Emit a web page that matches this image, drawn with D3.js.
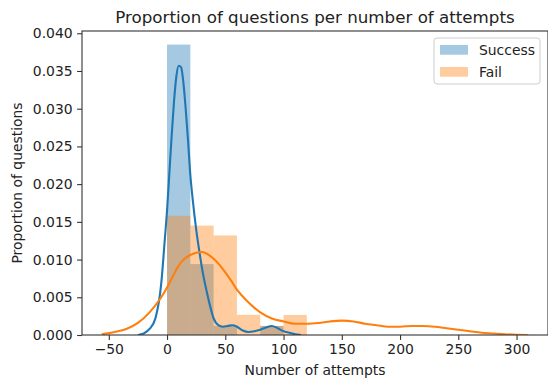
<!DOCTYPE html>
<html>
<head>
<meta charset="utf-8">
<script src="https://cdn.jsdelivr.net/npm/d3@7"></script>
<style>
  body { margin: 0; background: #fff; }
  text { font-family: "DejaVu Sans", sans-serif; fill: #222; }
</style>
</head>
<body>
<div id="chart"></div>
<script>

// Histogram bins (number of attempts) and densities
var binEdges = [0, 20, 40, 60, 80, 100, 120];
var successHist = [0.0385, 0.0094, 0.0012, 0, 0.0012, 0];
var failHist = [0.0158, 0.0145, 0.0132, 0.00268, 0.0012, 0.00265];

// KDE curves
var successKdeX = [-25, -20, -15, -10, -5, -2, 0, 2, 4, 6, 8, 10, 12, 14, 16, 18, 20, 22, 25, 28, 31, 34, 37, 40, 44, 48, 52, 56, 60, 65, 70, 75, 80, 85, 90, 95, 100, 105, 110, 115];
var successKdeY = [0, 0.0002, 0.0008, 0.0022, 0.0068, 0.0125, 0.0165, 0.0215, 0.0265, 0.0310, 0.0343, 0.0357, 0.0355, 0.0335, 0.0300, 0.0258, 0.0212, 0.0180, 0.0140, 0.0108, 0.0080, 0.0058, 0.0038, 0.0022, 0.0013, 0.0011, 0.0012, 0.0013, 0.0011, 0.0006, 0.0004, 0.0005, 0.0007, 0.0010, 0.0012, 0.0009, 0.0005, 0.0003, 0.0001, 0];

var failKdeX = [-56, -45, -35, -25, -15, -5, 0, 5, 10, 15, 20, 25, 30, 35, 40, 45, 50, 55, 60, 65, 70, 75, 80, 90, 100, 110, 120, 130, 140, 150, 160, 170, 180, 190, 200, 210, 220, 230, 240, 250, 260, 270, 280, 290, 300, 310];
var failKdeY = [0.0001, 0.0004, 0.0008, 0.0016, 0.0030, 0.0050, 0.0063, 0.0078, 0.0092, 0.0101, 0.0106, 0.0109, 0.0110, 0.0107, 0.0101, 0.0093, 0.0083, 0.0072, 0.0060, 0.0051, 0.0043, 0.0036, 0.0030, 0.0022, 0.0018, 0.0015, 0.0015, 0.0016, 0.0018, 0.0019, 0.0018, 0.0015, 0.0013, 0.0011, 0.0011, 0.0012, 0.0012, 0.0011, 0.0009, 0.0007, 0.0005, 0.0003, 0.0002, 0.0001, 0.00003, 0];

var xTicks = [-50, 0, 50, 100, 150, 200, 250, 300];
var yTicks = [0, 0.005, 0.010, 0.015, 0.020, 0.025, 0.030, 0.035, 0.040];

var seriesNames = ["Success", "Fail"];
var colors = { Success: "#1f77b4", Fail: "#ff7f0e" };

var svgWidth = 548;
var svgHeight = 382;
var margin = { top: 31, right: 0, bottom: 47, left: 82 };
var width = svgWidth - margin.left - margin.right;
var height = svgHeight - margin.top - margin.bottom;

var svg = d3.select("#chart")
  .append("svg")
  .attr("width", svgWidth)
  .attr("height", svgHeight);

var chart = svg.append("g")
  .attr("transform", "translate(" + margin.left + "," + margin.top + ")");

// Scales
var xScale = d3.scaleLinear().domain([-73, 327]).range([0, width]);
var yScale = d3.scaleLinear().domain([0, 0.0403]).range([height, 0]);

// Clip so nothing draws past the axes
chart.append("clipPath").attr("id", "clip")
  .append("rect").attr("width", width).attr("height", height);

// bars go under the lines (patches before lines, like matplotlib)
var barLayer = chart.append("g").attr("clip-path", "url(#clip)");
var lineLayer = chart.append("g").attr("clip-path", "url(#clip)");

var line = d3.line()
  .x(function(d) { return xScale(d[0]); })
  .y(function(d) { return yScale(d[1]); })
  .curve(d3.curveMonotoneX);

function drawSeries(name, hist, kx, ky) {
  var bins = hist.map(function(v, i) {
    return { x0: binEdges[i], x1: binEdges[i + 1], v: v };
  });

  barLayer.append("g").selectAll("rect")
    .data(bins)
    .enter().append("rect")
      .attr("x", function(d) { return xScale(d.x0); })
      .attr("width", function(d) { return xScale(d.x1) - xScale(d.x0); })
      .attr("y", function(d) { return yScale(d.v); })
      .attr("height", function(d) { return yScale(0) - yScale(d.v); })
      .attr("fill", colors[name])
      .attr("fill-opacity", 0.4);

  lineLayer.append("path")
    .datum(kx.map(function(x, i) { return [x, ky[i]]; }))
    .attr("d", line)
    .attr("fill", "none")
    .attr("stroke", colors[name])
    .attr("stroke-width", 2.1);
}

drawSeries("Success", successHist, successKdeX, successKdeY);
drawSeries("Fail", failHist, failKdeX, failKdeY);

// Axes
var bottomAxis = d3.axisBottom(xScale).tickValues(xTicks).tickSizeOuter(0).tickSize(4.9).tickPadding(4.5);
var leftAxis = d3.axisLeft(yScale).tickValues(yTicks).tickFormat(d3.format(".3f")).tickSizeOuter(0).tickSize(4.9).tickPadding(4.5);

var gx = chart.append("g")
  .attr("transform", "translate(0," + height + ")")
  .call(bottomAxis);
var gy = chart.append("g").call(leftAxis);

[gx, gy].forEach(function(g) {
  g.select(".domain").remove();
  g.selectAll("line").attr("stroke", "#333").attr("stroke-width", 1.1);
  g.selectAll("text").style("font-size", "13.9px").style("font-family", "DejaVu Sans").attr("fill", "#222");
});

// Spines
chart.append("rect")
  .attr("width", width)
  .attr("height", height)
  .attr("fill", "none")
  .attr("stroke", "#333")
  .attr("stroke-width", 1.1);

// Title and axis labels
svg.append("text")
  .attr("x", margin.left + width / 2)
  .attr("y", 23)
  .attr("text-anchor", "middle")
  .style("font-size", "16.7px")
  .text("Proportion of questions per number of attempts");

svg.append("text")
  .attr("x", margin.left + width / 2)
  .attr("y", 375)
  .attr("text-anchor", "middle")
  .style("font-size", "13.9px")
  .text("Number of attempts");

svg.append("text")
  .attr("transform", "translate(22," + (margin.top + height / 2) + ") rotate(-90)")
  .attr("text-anchor", "middle")
  .style("font-size", "13.9px")
  .text("Proportion of questions");

// Legend
var legend = svg.append("g").attr("transform", "translate(434,38)");

legend.append("rect")
  .attr("width", 106)
  .attr("height", 46)
  .attr("rx", 3)
  .attr("fill", "#fff")
  .attr("fill-opacity", 0.8)
  .attr("stroke", "#ccc")
  .attr("stroke-width", 1);

var items = legend.selectAll(".item")
  .data(seriesNames)
  .enter().append("g")
    .attr("transform", function(d, i) { return "translate(0," + (12 + i * 22) + ")"; });

items.append("rect")
  .attr("x", 6)
  .attr("y", -5)
  .attr("width", 28)
  .attr("height", 9.7)
  .attr("fill", function(d) { return colors[d]; })
  .attr("fill-opacity", 0.4);

items.append("text")
  .attr("x", 45)
  .attr("dy", "0.35em")
  .style("font-size", "13.9px")
  .text(function(d) { return d; });

</script>
</body>
</html>
